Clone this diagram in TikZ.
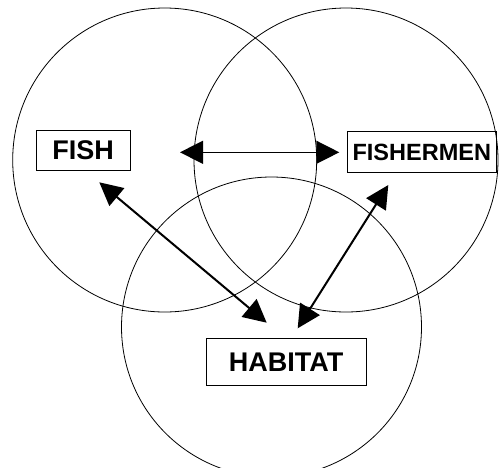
\documentclass[tikz,border=0pt]{standalone}
\usepackage{fontspec}
\setmainfont{Liberation Sans}
\usetikzlibrary{arrows.meta}
\begin{document}
\begin{tikzpicture}[x=1pt,y=-1pt,
  ring/.style={draw=black,line width=0.8pt},
  label box/.style={draw=black,line width=0.8pt,inner sep=0pt,font=\bfseries},
  link/.style={line width=1.4pt,{Triangle[length=23pt,width=23pt]}-{Triangle[length=23pt,width=23pt]}}]
\useasboundingbox (0,0) rectangle (501,467);
\draw[ring] (164.7,160) circle[radius=152];
\draw[ring] (346,160) circle[radius=152];
\draw[ring] (271.5,327) circle[radius=150];
\node[label box,minimum width=94.3pt,minimum height=39.7pt,font=\bfseries\fontsize{27}{27}\selectfont] (fish) at (83.2,150.2) {FISH};
\node[label box,minimum width=149pt,minimum height=40.6pt,font=\bfseries\fontsize{23.5}{23.5}\selectfont] (fishermen) at (421.8,152) {FISHERMEN};
\node[label box,minimum width=159.7pt,minimum height=47.4pt,font=\bfseries\fontsize{27}{27}\selectfont] (habitat) at (286.2,362) {HABITAT};
\coordinate (h1) at (180,152.3);
\coordinate (h2) at (339.3,152.3);
\coordinate (d1) at (99.3,182.3);
\coordinate (d2) at (266.7,322.7);
\coordinate (e1) at (388.3,185);
\coordinate (e2) at (297.7,328.3);
\draw[link] (h1) -- (h2);
\draw[link,line width=2pt] (d1) -- (d2);
\draw[link,line width=2pt] (e1) -- (e2);
\end{tikzpicture}
\end{document}
